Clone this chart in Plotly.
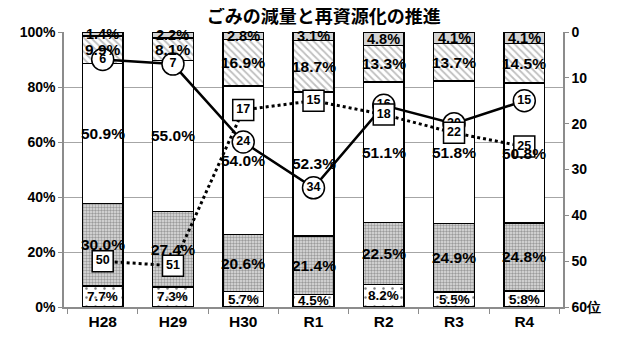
import plotly.graph_objects as go

years = ["H28", "H29", "H30", "R1", "R2", "R3", "R4"]

# stacked shares (%), bottom to top
seg1 = [7.7, 7.3, 5.7, 4.5, 8.2, 5.5, 5.8]
seg2 = [30.0, 27.4, 20.6, 21.4, 22.5, 24.9, 24.8]
seg3 = [50.9, 55.0, 54.0, 52.3, 51.1, 51.8, 50.8]
seg4 = [9.9, 8.1, 16.9, 18.7, 13.3, 13.7, 14.5]
seg5 = [1.4, 2.2, 2.8, 3.1, 4.8, 4.1, 4.1]

# rankings (right axis)
rank_a = [6, 7, 24, 34, 16, 20, 15]
rank_b = [50, 51, 17, 15, 18, 22, 25]

FONT = "Liberation Sans"

segments = [
    (seg1, dict(color="white", pattern=dict(shape=".", fgcolor="black", bgcolor="white", size=9, solidity=0.06)), 13.5),
    (seg2, dict(color="white", pattern=dict(shape=".", fgcolor="#555555", bgcolor="#e0e0e0", size=3, solidity=0.5)), 15.5),
    (seg3, dict(color="white"), 15.5),
    (seg4, dict(color="white", pattern=dict(shape="\\", fgcolor="#808080", bgcolor="white", size=5, solidity=0.35)), 15.5),
    (seg5, dict(color="#d4d4d4"), 14.5),
]

fig = go.Figure()
base = [0.0] * len(years)
for vals, mk, fs in segments:
    fig.add_trace(go.Bar(
        x=years, y=vals,
        marker=dict(line=dict(color="black", width=1.5), **mk),
        width=0.58, showlegend=False, hoverinfo="skip",
    ))
    for i, v in enumerate(vals):
        fig.add_annotation(
            x=years[i], y=base[i] + v / 2, xref="x", yref="y",
            text=f"{v:.1f}%", showarrow=False,
            font=dict(family=FONT, size=fs, color="black", weight="bold"),
        )
        base[i] += v

fig.add_trace(go.Scatter(
    x=years, y=rank_a, yaxis="y2", mode="lines+markers+text",
    line=dict(color="black", width=2.5),
    marker=dict(symbol="circle", size=22, color="white", line=dict(color="black", width=1.5)),
    text=[str(v) for v in rank_a], textposition="middle center",
    textfont=dict(family=FONT, size=12.5, color="black", weight="bold"),
    showlegend=False, hoverinfo="skip",
))
fig.add_trace(go.Scatter(
    x=years, y=rank_b, yaxis="y2", mode="lines+markers+text",
    line=dict(color="black", width=3, dash="dot"),
    marker=dict(symbol="square", size=21, color="white", line=dict(color="black", width=1.5)),
    text=[str(v) for v in rank_b], textposition="middle center",
    textfont=dict(family=FONT, size=12.5, color="black", weight="bold"),
    showlegend=False, hoverinfo="skip",
))

fig.update_layout(
    barmode="stack",
    width=605, height=334,
    margin=dict(l=54, r=43, t=24, b=26),
    plot_bgcolor="white", paper_bgcolor="white",
    font=dict(family=FONT, size=14, color="black"),
    title=dict(
        text="ごみの減量と再資源化の推進", x=0.522, xanchor="center", y=0.975, yanchor="middle",
        font=dict(family="Noto Sans CJK JP", size=18, color="black", weight="bold"),
    ),
    xaxis=dict(
        type="category", showline=True, linecolor="#8c8c8c", linewidth=1.5,
        ticks="outside", tickson="boundaries", ticklen=5, tickcolor="#8c8c8c",
        tickfont=dict(family=FONT, size=15.5, weight="bold"),
        showgrid=False,
    ),
    yaxis=dict(
        range=[0, 100], tickvals=[0, 20, 40, 60, 80, 100],
        ticktext=["0%", "20%", "40%", "60%", "80%", "100%"],
        showgrid=True, gridcolor="#a6a6a6", gridwidth=1.2,
        showline=True, linecolor="#8c8c8c", linewidth=1.5,
        ticks="outside", ticklen=4, tickcolor="#8c8c8c",
        tickfont=dict(family=FONT, size=14, weight="bold"),
        zeroline=False,
    ),
    yaxis2=dict(
        overlaying="y", side="right", range=[60, 0],
        tickvals=[0, 10, 20, 30, 40, 50, 60],
        ticktext=["0", "10", "20", "30", "40", "50", "60位"],
        showgrid=False, showline=True, linecolor="#8c8c8c", linewidth=1.5,
        ticks="outside", ticklen=4, tickcolor="#8c8c8c",
        tickfont=dict(family=FONT, size=14, weight="bold"),
        zeroline=False,
    ),
)

fig.write_html("out.html")
